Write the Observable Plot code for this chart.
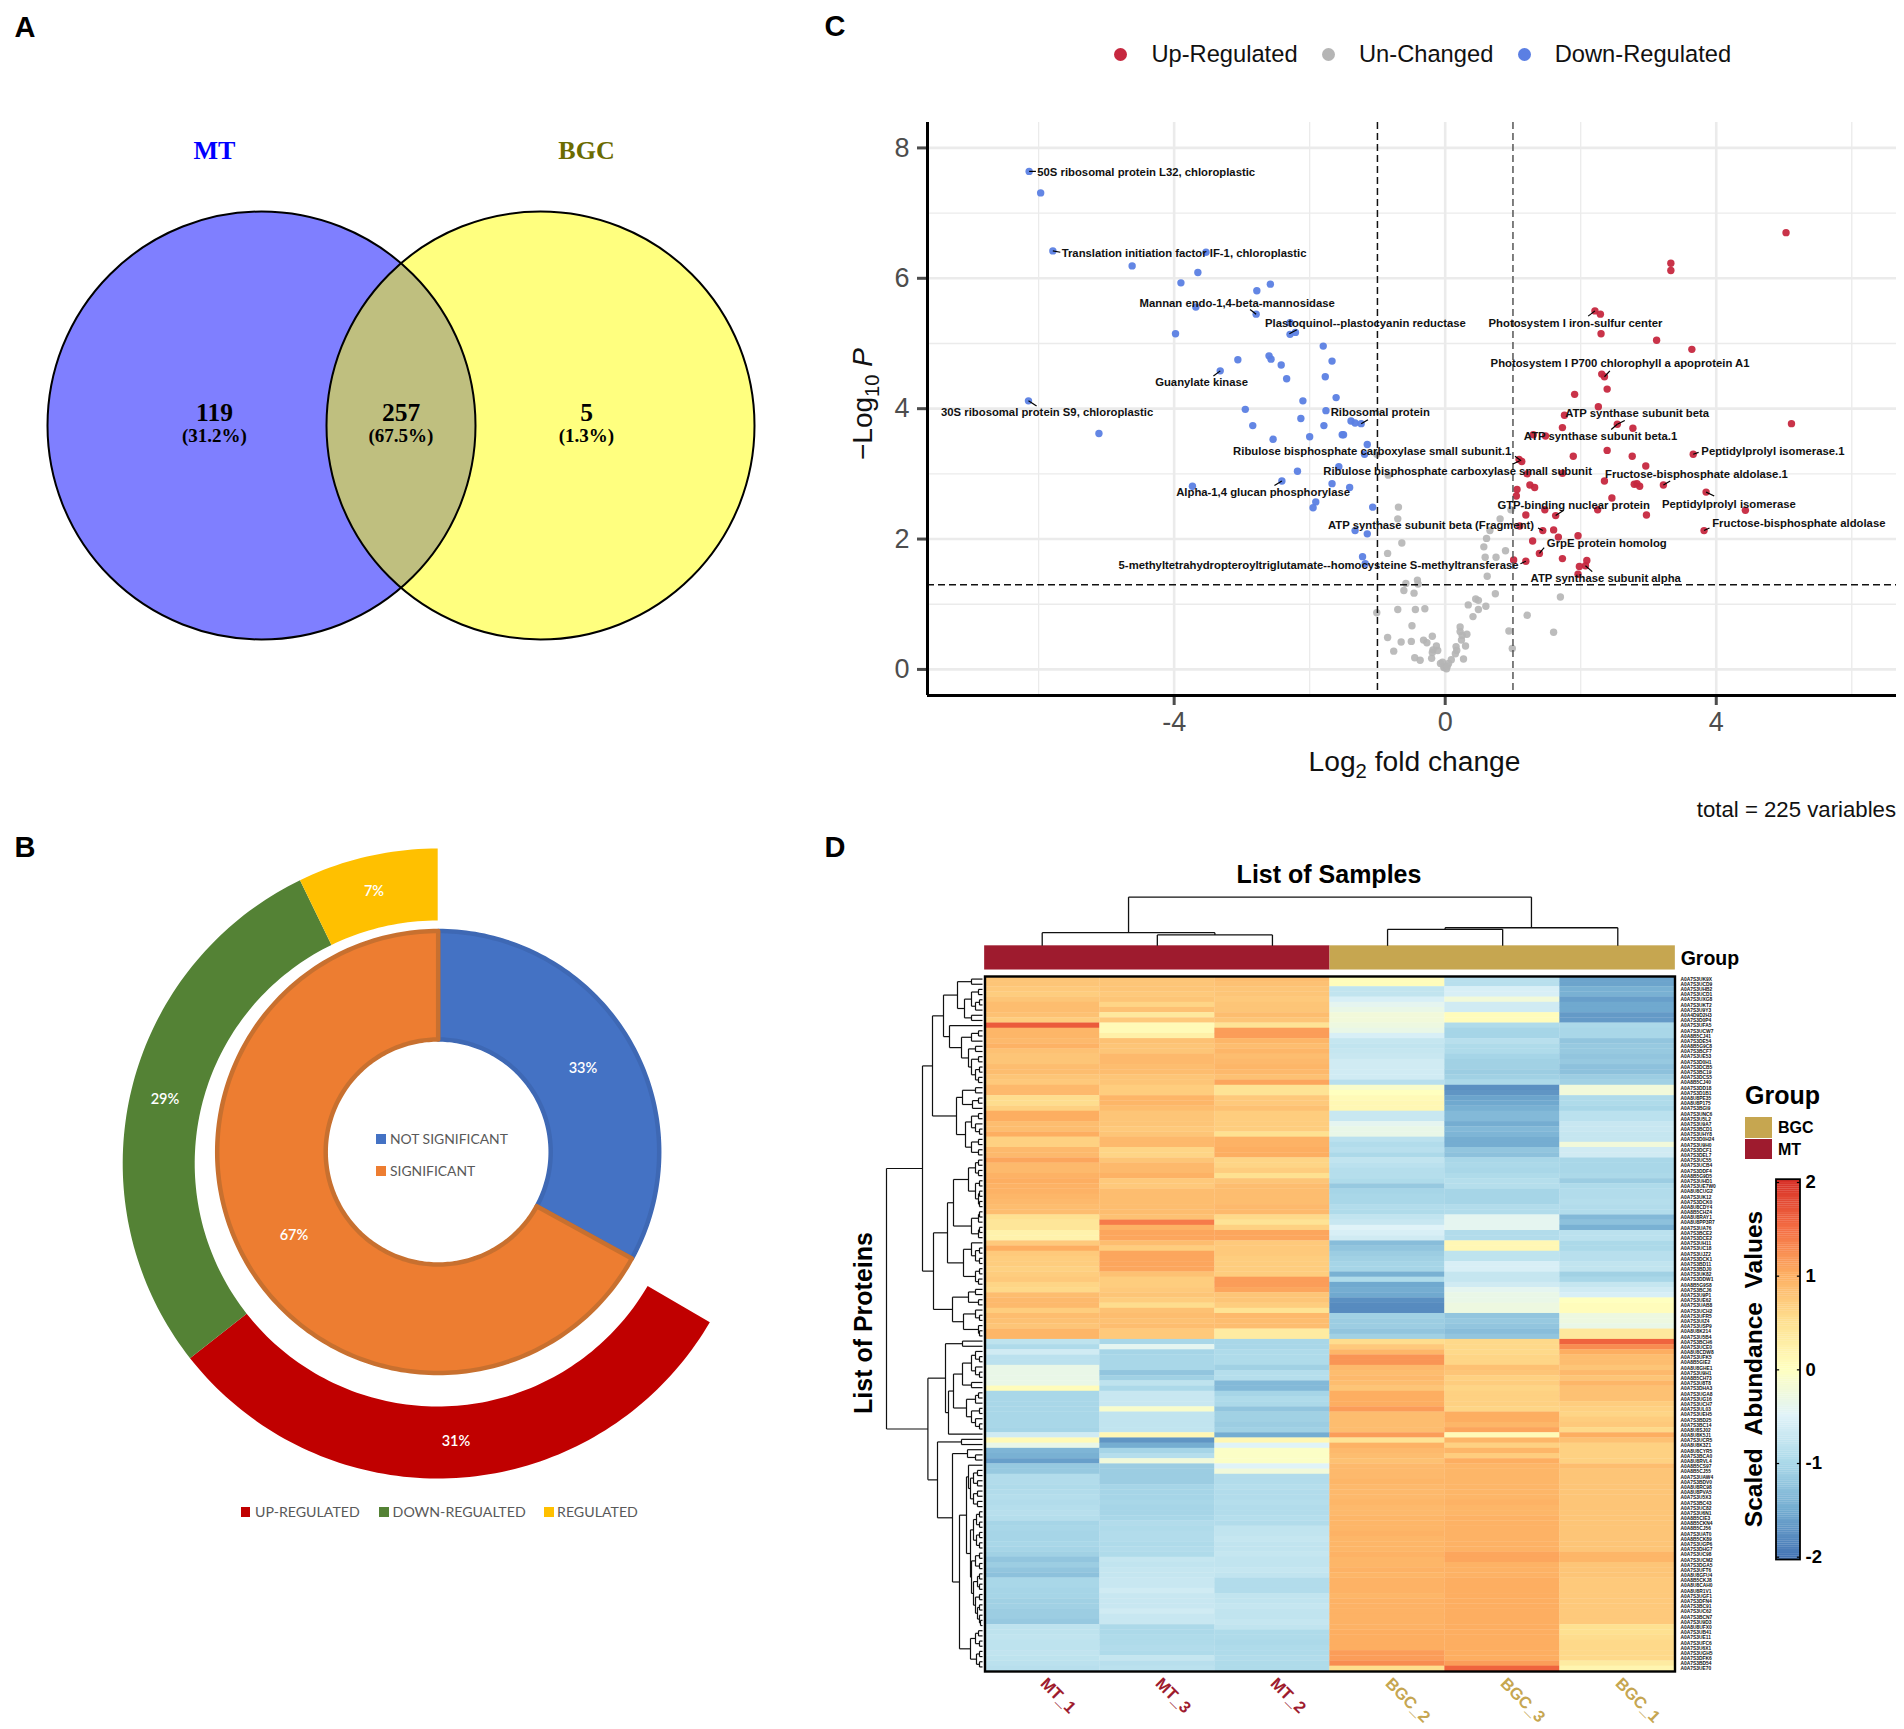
<!DOCTYPE html>
<html><head><meta charset="utf-8">
<script src="https://cdn.jsdelivr.net/npm/d3@7"></script>
<script src="https://cdn.jsdelivr.net/npm/@observablehq/plot@0.6"></script>
<style>
html,body{margin:0;padding:0;background:#fff}
#page{position:relative;width:1904px;height:1729px;overflow:hidden;font-family:"Liberation Sans",Arial,sans-serif}
#page svg{position:absolute;max-width:none;background:transparent;overflow:visible}
.t{position:absolute;white-space:nowrap;line-height:1;transform:translate(-50%,-50%)}
.sw{position:absolute}
sub{font-size:.72em;line-height:0}
</style></head><body><div id="page"></div>
<script>
// ---------- Panel A: Venn ----------
const vennSets=["MT","BGC"];
const vennCounts=[119,257,5];
const vennShares=["(31.2%)","(67.5%)","(1.3%)"];
// ---------- Panel B: nested donut ----------
const innerNames=["NOT SIGNIFICANT","SIGNIFICANT"];
const innerShares=[33,67];
const innerColors=["#4472c4","#ed7d31"];
const outerNames=["UP-REGULATED","DOWN-REGUALTED","REGULATED"];
const outerShares=[31,29,7];
const outerSlices=[31,28.4,7.2]; // slice sizes as drawn, before rounding in the labels
const outerColors=["#c00000","#548235","#ffc000"];
// ---------- Panel C: volcano, [log2FC, -log10P] ----------
const downPoints=[[-6.14,7.64],[-5.97,7.31],[-5.79,6.42],[-3.53,6.4],[-4.62,6.19],[-3.65,6.09],[-3.9,5.93],[-2.58,5.91],[-2.78,5.81],[-3.68,5.56],[-2.79,5.45],[-2.29,5.32],[-2.29,5.14],[-2.21,5.17],[-3.98,5.15],[-1.8,4.96],[-2.6,4.81],[-2.57,4.76],[-3.06,4.75],[-1.67,4.73],[-2.42,4.67],[-3.32,4.58],[-2.34,4.46],[-1.77,4.49],[-1.61,4.17],[-2.1,4.12],[-6.15,4.12],[-2.95,3.99],[-1.76,3.97],[-2.13,3.85],[-1.39,3.81],[-1.33,3.78],[-1.24,3.77],[-2.84,3.74],[-1.79,3.74],[-5.11,3.62],[-2,3.57],[-1.52,3.6],[-1.5,3.6],[-2.54,3.53],[-1.15,3.45],[-1.19,3.3],[-1.57,3.11],[-2.18,3.04],[-2.41,2.89],[-1.67,2.85],[-3.73,2.81],[-1.41,2.79],[-1.91,2.57],[-1.95,2.48],[-1.07,2.49],[-1.33,2.13],[-1.15,2.08],[-1.22,1.73],[-1.18,1.62]];
const upPoints=[[5.03,6.7],[3.33,6.23],[3.33,6.12],[2.21,5.5],[2.29,5.45],[2.3,5.15],[3.12,5.05],[3.64,4.91],[2.31,4.53],[2.35,4.49],[2.39,4.3],[1.91,4.22],[2.26,4.03],[1.76,3.9],[2.54,3.76],[2.77,3.7],[1.73,3.71],[5.11,3.77],[1.3,3.6],[1.48,3.58],[2.39,3.36],[1.89,3.27],[2.76,3.27],[3.66,3.3],[1.09,3.22],[1.13,3.19],[2.96,3.12],[1.21,3],[1.73,3.01],[2.35,2.89],[2.79,2.84],[2.83,2.85],[2.87,2.81],[3.22,2.83],[1.25,2.83],[1.32,2.79],[1.06,2.76],[1.05,2.66],[2.46,2.63],[3.85,2.72],[1.47,2.45],[2.25,2.45],[4.43,2.44],[1.19,2.37],[1.63,2.36],[2.97,2.37],[3.82,2.13],[1.1,2.2],[1.44,2.13],[1.6,2.14],[1.67,2.03],[1.96,2.05],[1.29,1.97],[1.39,1.78],[1.73,1.7],[1.01,1.68],[1.19,1.66],[2.09,1.67],[1.98,1.58],[2.07,1.59],[1.96,1.46]];
const flatPoints=[[-1.01,3.3],[-0.84,2.98],[-0.69,2.49],[-0.7,2.31],[0.81,2.31],[0.97,2.45],[0.66,2.13],[0.61,2.01],[-0.64,1.94],[0.57,1.88],[0.89,1.82],[-0.85,1.78],[0.59,1.72],[0.75,1.72],[0.62,1.43],[-0.58,1.32],[-0.41,1.37],[-0.4,1.31],[-0.61,1.21],[-0.46,1.17],[0.74,1.16],[1.7,1.11],[0.45,1.08],[0.49,1.06],[0.34,0.99],[0.6,0.97],[-0.3,0.93],[-0.44,0.92],[-0.7,0.92],[-1.01,0.87],[0.49,0.92],[0.41,0.81],[1.21,0.83],[-0.49,0.67],[0.22,0.65],[0.94,0.59],[1.6,0.57],[0.22,0.58],[0.32,0.54],[0.25,0.52],[-0.85,0.49],[-0.19,0.51],[0.24,0.45],[-0.65,0.42],[-0.5,0.43],[-0.32,0.45],[-0.27,0.41],[-0.13,0.36],[0.3,0.36],[0.16,0.35],[0.99,0.32],[-0.18,0.3],[-0.11,0.29],[-0.76,0.28],[-0.19,0.26],[0.17,0.29],[0.15,0.24],[-0.45,0.18],[-0.2,0.17],[-0.37,0.14],[0.27,0.16],[0.09,0.15],[-0.04,0.11],[0.05,0.09],[-0.01,0.04],[0.02,0.01],[-0.02,0.03],[-0.07,0.09],[0.03,0.05]];
const proteinNames=["50S ribosomal protein L32, chloroplastic","Translation initiation factor IF-1, chloroplastic","Mannan endo-1,4-beta-mannosidase","Plastoquinol--plastocyanin reductase","Guanylate kinase","30S ribosomal protein S9, chloroplastic","Ribosomal protein","Ribulose bisphosphate carboxylase small subunit.1","Ribulose bisphosphate carboxylase small subunit","Alpha-1,4 glucan phosphorylase","ATP synthase subunit beta (Fragment)","5-methyltetrahydropteroyltriglutamate--homocysteine S-methyltransferase","Photosystem I iron-sulfur center","Photosystem I P700 chlorophyll a apoprotein A1","ATP synthase subunit beta","ATP synthase subunit beta.1","Peptidylprolyl isomerase.1","Fructose-bisphosphate aldolase.1","GTP-binding nuclear protein","Peptidylprolyl isomerase","Fructose-bisphosphate aldolase","GrpE protein homolog","ATP synthase subunit alpha"];
const proteinLabelX=[-6.02,-5.66,-4.51,-2.66,-4.28,-7.44,-1.69,-3.13,-1.8,-3.97,-1.73,-4.82,0.64,0.67,1.77,1.16,3.78,2.36,0.77,3.2,3.94,1.5,1.26];
const proteinLabelY=[7.63,6.39,5.62,5.31,4.4,3.94,3.94,3.35,3.04,2.71,2.21,1.59,5.31,4.69,3.93,3.58,3.34,2.99,2.52,2.53,2.24,1.93,1.39];
// connector from a labelled point towards its label: [x1,y1,x2,y2]
const connectors=[[-6.14,7.64,-6.04,7.64],[-5.79,6.42,-5.68,6.4],[-2.79,5.45,-2.88,5.52],[-2.3,5.15,-2.19,5.21],[-3.32,4.58,-3.42,4.5],[-6.15,4.12,-6.03,4.04],[-1.24,3.77,-1.14,3.83],[1.12,3.2,1.03,3.27],[1.1,3.2,1,3.15],[-2.41,2.89,-2.52,2.82],[2.54,3.76,2.45,3.68],[2.54,3.76,2.65,3.82],[3.66,3.3,3.74,3.33],[3.22,2.83,3.32,2.89],[3.85,2.72,3.97,2.66],[3.82,2.13,3.9,2.17],[1.63,2.36,1.75,2.44],[1.39,1.78,1.46,1.87],[2.07,1.59,2.17,1.5],[1.44,2.13,1.37,2.17],[1.19,1.66,1.11,1.62],[2.21,5.5,2.11,5.42],[2.35,4.49,2.43,4.58]];
const volcanoClasses=["Up-Regulated","Un-Changed","Down-Regulated"];
const volcanoColors=["#c6283f","#b5b5b5","#5b7fe3"];
const xMajor=[-4,0,4], xMinor=[-6,-2,2,6], yMajor=[0,2,4,6,8], yMinor=[1,3,5,7];
// ---------- Panel D: heatmap ----------
const samples=["MT_1","MT_3","MT_2","BGC_2","BGC_3","BGC_1"];
const sampleGroup=["MT","MT","MT","BGC","BGC","BGC"];
const groupOrder=["MT","BGC"];
const groupColors={MT:"#9e1b2e",BGC:"#c6a650"};
const heatStops=[-2,-1.5,-1,-.5,0,.5,1,1.5,2];
const heatColors=["#4575b4","#74add1","#abd9e9","#e0f3f8","#ffffbf","#fee090","#fdae61","#f46d43","#d73027"];
const MT_1=[.95,.95,.9,.85,.95,1.05,1.05,1,.85,1.75,
1.15,1.15,1.1,1.2,1,.95,.95,1.05,1.05,.95,
.9,1.1,1.1,.65,.65,.8,1.25,1.25,1.05,1.05,
1.25,.8,.8,1.1,1.1,1.3,1.1,1.1,1.2,1.25,
1.2,1.2,1.15,1.1,1.05,1.05,.6,.5,.5,.25,
.25,.9,1.25,.9,.85,.85,.8,.85,.9,.75,
.7,1.05,1.1,1.1,.85,1.05,1,.95,1.15,1.15,
-.7,-.95,-.5,-.75,-.75,-.3,-.3,-.3,-.3,.05,
-1.05,-1.05,-1.05,-1.05,-1.05,-1.05,-1.05,-1.1,-.5,.1,
-.3,-1.5,-1.55,-1.75,-1.25,-1.25,-.9,-.9,-.95,-.9,
-.85,-.9,-.85,-.8,-.85,-1.1,-1.05,-1.1,-1.1,-1.05,
-1.1,-1.15,-1.3,-1.2,-1.3,-1.35,-1.05,-1.05,-1.1,-1.1,
-1.15,-1.15,-1.2,-1.2,-1.25,-.7,-.7,-.65,-.7,-.7,
-.65,-.7,-.75,-.8];
const MT_3=[.95,.95,.95,.9,.95,.75,1,.45,.9,.1,
.1,.3,1,.95,.95,1.1,1.1,1.05,1.05,.95,
.95,.85,.85,1.15,1.15,1.05,.95,.95,.95,.9,
.95,1.1,1.1,.75,.75,.95,1.1,1.1,1.2,.9,
.9,1.05,1.05,1.05,1.05,1.05,1,1.55,1.2,1.3,
1.3,1.05,.85,1.3,1.3,1.3,1.3,1,.85,.85,
.9,.95,.85,.65,1,1.05,1,1.05,.9,.9,
-1.05,-.35,-1.1,-1.05,-1.05,-1.05,-1.3,-1.15,-.7,-1,
-.55,-.55,-.55,-.1,-.65,-.65,-.65,-.65,.15,-1.85,
-1.6,-1.1,-.85,-.2,-1.2,-1.2,-1.2,-1.2,-1.1,-1.1,
-1.1,-1.05,-1.1,-1.1,-1.05,-.9,-.95,-.9,-.9,-.95,
-.9,-.95,-.6,-.65,-.6,-.6,-.55,-.55,-.5,-.55,
-.55,-.55,-.5,-.55,-.55,-1,-1,-.95,-.95,-.9,
-.95,-.6,-.8,-.75];
const MT_2=[1.05,1,.95,.95,.9,.95,.95,1.05,.95,.55,
1.35,1.35,1.15,1.05,1.15,1.05,1.1,1.15,1.1,1,
1.3,.55,.55,.9,.9,1,.85,.85,.85,.85,
.6,1.2,1.2,1.25,1.25,.75,.75,.85,.6,.95,
1.05,1.05,1.05,1.05,1.1,1.1,.7,.55,.8,1.3,
1.3,.9,.9,.9,.85,.85,.85,.85,1.35,1.35,
1.3,.95,.95,.85,.55,1.1,1.05,1.05,.4,.4,
-1.05,-1.05,-.95,-.95,-.95,-1.15,-.85,-.85,-1.45,-1.45,
-1.1,-.95,-1,-1.3,-1.15,-1.15,-1.2,-1.15,-1.6,.15,
-.4,-.05,-.05,-.05,-.4,-.2,-.9,-.9,-.85,-.9,
-.9,-.85,-.9,-.9,-.85,-.9,-.65,-.65,-.6,-.65,
-.65,-.6,-.65,-.65,-.6,-.65,-.9,-.9,-.9,-.65,
-.65,-.6,-.65,-.65,-.6,-.65,-.95,-.95,-1,-.95,
-.95,-.9,-.95,-.95];
const BGC_2=[.05,.05,-.65,-.65,-.45,-.35,-.3,-.2,-.2,-.25,
-.3,-.45,-.6,-.65,-.6,-.55,-.5,-.5,-.5,-.5,
-.8,-.1,0,.1,.15,.15,-.55,-.55,-.35,-.3,
-.3,-.75,-.9,-.8,-1,-.65,-.75,-.85,-.85,-.95,
-1.25,-1.1,-1.05,-1.05,-.9,-.95,-.65,-.55,-.4,-.45,
-.5,-1.4,-1.3,-1.2,-1.15,-1.1,-1.1,-1.55,-.95,-1.65,
-1.6,-1.65,-1.9,-1.95,-1.95,-1.15,-1.2,-1.2,-1.3,-1.15,
.65,.9,1.15,1.4,1.4,1.1,1.05,1.1,1.05,.95,
1.25,1.25,1.25,1.35,1.05,1.05,1.05,1.05,1.35,.55,
1.2,1.1,1.05,1,1.1,1.1,1.1,1.15,1.1,1.1,
1.1,1.15,1.1,1.1,1.15,1.15,1.15,1.2,1.15,1.15,
1.15,1.2,1.15,1.15,1.2,1.15,1.2,1.2,1.2,1.15,
1.2,1.2,1.2,1.2,1.2,1.2,1.25,1.25,1.25,1.25,
1.35,1.35,1.45,.65];
const BGC_3=[-.8,-.8,-.45,-.45,-.2,-.5,-.5,.05,.05,-.95,
-1.1,-1.1,-.8,-.95,-.95,-1.1,-1.15,-1.15,-1.2,-1.15,
-1,-1.9,-1.85,-1.7,-1.65,-1.55,-1.45,-1.45,-1.6,-1.45,
-1.5,-1.6,-1.6,-1.3,-1.35,-1.05,-1,-1.05,-.95,-.85,
-.85,-1.1,-1.1,-1.1,-.9,-.9,-.35,-.35,-.35,-.9,
-.9,.15,.15,-.7,-.7,-.45,-.45,-.6,-.6,-.5,
-.35,-.3,-.3,-.25,-.25,-1.3,-1.25,-1.3,-1.4,-1.3,
.7,.7,.7,.75,.75,1,.95,.8,.85,.75,
.8,.8,.8,.75,1.25,1.25,1.15,1.3,.1,1.15,
.8,1.15,.85,1.25,1.15,1.15,1.15,1.15,1.15,1.15,
1.15,1.2,1.15,1.15,1.2,1.2,1.2,1.2,1.2,1.2,
1.2,1.3,1.3,1.2,1.2,1.2,1.25,1.25,1.25,1.25,
1.25,1.25,1.25,1.25,1.25,1.25,1.25,1.25,1.25,1.25,
1.25,1.25,1.35,1.7];
const BGC_1=[-1.7,-1.7,-1.55,-1.55,-1.75,-1.65,-1.65,-1.8,-1.8,-1,
-1.05,-1.05,-1.3,-1.25,-1.25,-1.3,-1.25,-1.35,-1.35,-1.2,
-1.15,-.2,-.2,-.95,-.95,-1.05,-.75,-.75,-.55,-.55,
-.6,-.6,-.2,-.5,-.5,-1.05,-1.05,-1.05,-1,-1.2,
-.95,-.9,-.9,-.85,-.9,-.9,-1.45,-1.35,-1.55,-.75,
-.75,-1,-1,-.8,-.8,-.65,-.65,-1.15,-1.05,-.6,
-.5,-.45,0,.05,.05,-.25,-.25,-.3,.45,.45,
1.7,1.45,1.25,1.05,1.05,.95,1.1,.95,1.15,1,
1,1,.85,.8,.75,.85,.9,.7,1.25,1,
.8,.8,.8,.8,1.05,.95,.95,.95,.95,.95,
.95,.95,.95,.95,.95,.95,.95,.95,.95,.95,
.95,1.15,1.15,.95,.95,.95,.9,.9,.9,.9,
.9,.9,.9,.9,.9,.6,.6,.65,.7,.7,
.7,.7,.4,.2];
const sampleValues=[MT_1,MT_3,MT_2,BGC_2,BGC_3,BGC_1];
const rowIds=["A0A7S3UK9X","A0A7S3UCD9","A0A7S3UHB2","A0A7S3UCD1","A0A7S3UXG8","A0A7S3UKT2","A0A7S3U9Y3","A0A4D9D2H3","A0A7S3D0P4","A0A7S3UFA5",
"A0A7S3UCW7","A0A8B5CJ41","A0A7S3DE54","A0A8B5G9C8","A0A7S3BCF7","A0A7S3UE53","A0A7S3D0H1","A0A7S3DCB5","A0A7S3BC19","A0A7S3DCS5",
"A0A8B5CJ40","A0A7S3DD18","A0A7S3D1B1","A0A8U8PE35","A0A8U8P175","A0A7S3BGI9","A0A7S3UNC6","A0A7S3U5L2","A0A7S3U9A7","A0A7S3BCD1",
"A0A7S3UHY8","A0A7S3D0H24","A0A7S3U9H0","A0A7S3DCF1","A0A7S3DEL7","A0A7S3UC55","A0A7S3UCB4","A0A7S3DDF4","A0A8B5G9D5","A0A7S3UHD1",
"A0A7S3UE7W0","A0A8U8CUG2","A0A7S3UK12","A0A7S3DCK0","A0A8U8CDY4","A0A8B5CHZ4","A0A8U8RAY1","A0A8U8PP3R7","A0A7S3UA76","A0A7S3BCE2",
"A0A7S3DCE2","A0A7S3UH11","A0A7S3UC18","A0A7S3UJZ2","A0A7S3DCK1","A0A7S3BD11","A0A7S3BDJ0","A0A7S3UK82","A0A7S3DDW1","A0A8B5G9S8",
"A0A7S3BCJ6","A0A7S3U9P1","A0A7S3UE62","A0A7S3UAB8","A0A7S3UCH2","A0A7S3UFR5","A0A7S3UIZ4","A0A7S3USP9","A0A8U8K214","A0A7S3U5B4",
"A0A7S3BCH6","A0A7S3UCE0","A0A8U8CDW8","A0A7S3UFK5","A0A8B5GIE2","A0A8U8GHE1","A0A7S3U9H1","A0A8B5CH73","A0A7S3U8T8","A0A7S3DHA3",
"A0A7S3UGA8","A0A7S3UG16","A0A7S3UCH7","A0A7S3UL03","A0A7S3UEH5","A0A7S3BD25","A0A7S3BC14","A0A8U8SJ02","A0A8U8K5J1","A0A7S3UCR5",
"A0A8U8K3Z1","A0A8U8CYR5","A0A7S3BCA0","A0A8U8RVL4","A0A8B5CS97","A0A8B5CJ55","A0A7S3UAW4","A0A7S3BDV0","A0A8U8RC98","A0A8U8PVA5",
"A0A7S3U5X3","A0A7S3BC43","A0A7S3UC82","A0A7S3U6N1","A0A8B5CIE3","A0A8B5CKN4","A0A8B5CJ56","A0A7S3UAT0","A0A8B5CK89","A0A7S3UGP6",
"A0A7S3DHG7","A0A7S3UC98","A0A7S3UCM2","A0A7S3DGA5","A0A7S3UFT6","A0A8U8GFU4","A0A8B5CKJ8","A0A8U8CAH0","A0A8U8R1V1","A0A7S3UGF1",
"A0A7S3DFN4","A0A7S3BC91","A0A7S3UC62","A0A7S3BCN7","A0A7S3U9D3","A0A8U8UFX0","A0A7S3UB41","A0A7S3UE11","A0A7S3UFC6","A0A7S3U6X1",
"A0A7S3UGH5","A0A7S3DFK6","A0A7S3BD54","A0A7S3UE70"];
// dendrograms: [height, left, right]; a number is a leaf
const topTree=[49.3,[13.3,.5,[11,1.5,2.5]],[18.3,[16.7,3.5,4.5],5.5]];
const rowTree=[96,
 [60,
  [50,
   [39,
    [25,[11,0,1],[18,[11,[4,2,3],[7,[3,4,5],6]],[11,7,8]]],
    [33,9,[21,[11,[4,10,11],12],[14,[7,13,14],[11,[4,15,16],[7,[3,17,18],[4,19,20]]]]]]],
   [26,[20,[7,21,22],[10,[4,23,24],25]],[17,[11,[4,26,27],[7,28,[3,29,30]]],[11,[4,31,32],[4,33,34]]]]],
  [49,
   [35,
    [29,[14,[7,[4,35,36],[4,37,38]],[7,[3,39,40],[4,[3,41,42],[3,43,44]]]],[11,[4,[3,45,46],47],[4,[3,48,49],50]]],
    [19,[11,51,[7,[3,52,53],[3,54,55]]],[7,[3,56,57],[4,58,59]]]],
   [30,[14,[7,60,61],[4,62,63]],[19,[7,64,[3,65,66]],[4,67,[3,68,69]]]]]],
 [54.6,
  [37,[20,70,71],[34,[29,[20,[11,[7,72,[3,73,74]],[7,75,[3,76,77]]],[11,78,79]],[16,[7,[4,80,81],82],[11,[3,83,84],[7,85,[3,86,87]]]]],88]],
  [45,[21,89,90],
   [30,[15,91,[7,92,93]],
    [23,
     [16,[14,94,[12,[9,[5,95,96],[5,97,98]],[9,[5,99,100],[5,101,102]]]],[12,[9,[6,[3,103,104],[3,105,106]],[6,[3,107,108],[3,109,110]]],[11,[7,[3,111,112],[3,113,114]],[9,[5,[3,115,116],[3,117,118]],[7,[3,119,120],[5,[3,121,122],[3,123,[2,124,125]]]]]]]],
     [12,[7,[4,126,127],[3,128,129]],[6,[3,130,131],[3,132,133]]]]]]]];

// ---------- helpers ----------
const page=document.getElementById("page");
const sans="'Liberation Sans',Arial,sans-serif", serif="'Liberation Serif',serif", lato="Lato,'Open Sans',sans-serif";
function place(svg,left,top){svg.style.left=left+"px";svg.style.top=top+"px";page.appendChild(svg);return svg;}
function txt(html,x,y,o={}){const d=document.createElement("div");d.className="t";d.innerHTML=html;
 d.style.left=x+"px";d.style.top=y+"px";d.style.fontSize=(o.size||16)+"px";d.style.fontWeight=o.weight||"normal";
 d.style.color=o.color||"#000";d.style.fontFamily=o.font||sans;
 let tr=o.anchor==="start"?"translate(0,-50%)":o.anchor==="end"?"translate(-100%,-50%)":"translate(-50%,-50%)";
 if(o.rotate)tr+=` rotate(${o.rotate}deg)`;d.style.transform=tr;page.appendChild(d);return d;}
function swatch(x,y,w,h,color,round){const d=document.createElement("div");d.className="sw";
 Object.assign(d.style,{left:x+"px",top:y+"px",width:w+"px",height:h+"px",background:color,borderRadius:round?"50%":"0"});page.appendChild(d);}
function treeSegments(node,pos){
 if(typeof node==="number")return{c:pos(node),h:0,segs:[]};
 const a=treeSegments(node[1],pos),b=treeSegments(node[2],pos),h=node[0];
 const segs=[...a.segs,...b.segs,{h1:h,h2:h,c1:a.c,c2:b.c},{h1:a.h,h2:h,c1:a.c,c2:a.c},{h1:b.h,h2:h,c1:b.c,c2:b.c}];
 return{c:(a.c+b.c)/2,h,segs};
}
const heatColor={type:"linear",domain:heatStops,range:heatColors,clamp:true};

// ---------- panel letters ----------
txt("A",25,27,{size:29,weight:"bold"});txt("B",25,847,{size:29,weight:"bold"});
txt("C",835,26,{size:29,weight:"bold"});txt("D",835,847,{size:29,weight:"bold"});

// ---------- Panel A ----------
const vennCircles=[{set:"MT",cx:261,cy:425,fill:"#0000ff"},{set:"BGC",cx:540,cy:425,fill:"#ffff00"}];
const venn=[{x:214,i:0},{x:400.5,i:1},{x:586,i:2}];
place(Plot.plot({width:800,height:660,margin:0,x:{domain:[0,800],range:[0,800],axis:null},y:{domain:[0,660],range:[0,660],axis:null},
 style:{background:"transparent"},
 marks:[
  Plot.dot(vennCircles,{x:"cx",y:"cy",r:214,fill:"fill",fillOpacity:.5,stroke:"none"}),
  Plot.dot(vennCircles,{x:"cx",y:"cy",r:214,fill:"none",stroke:"#000",strokeWidth:2}),
  Plot.text(venn,{x:"x",y:()=>412,text:d=>String(vennCounts[d.i]),fontFamily:serif,fontWeight:"bold",fontSize:25.5,fill:"#000"}),
  Plot.text(venn,{x:"x",y:()=>435,text:d=>vennShares[d.i],fontFamily:serif,fontWeight:"bold",fontSize:19,fill:"#000"}),
  Plot.text([0,1],{x:i=>[214,586][i],y:()=>150.5,text:i=>vennSets[i],fontFamily:serif,fontWeight:"bold",fontSize:26,fill:i=>["#0000ff","#6b6b00"][i]})
 ]}),0,0);

// ---------- Panel B ----------
function sector(from,to,r0,r1,cx,cy,key){
 const n=Math.max(2,Math.round((to-from)*3)),out=[];
 for(let k=0;k<=n;k++){const a=(from+(to-from)*k/n)/100*2*Math.PI,s=Math.sin(a),c=Math.cos(a);
  out.push({key,x1:cx+r0*s,y1:cy-r0*c,x2:cx+r1*s,y2:cy-r1*c});}
 return out;}
let acc=100-d3.sum(outerSlices),outerArcs=[];outerSlices.forEach((p,i)=>{outerArcs.push(...sector(acc,acc+p,243,315,0,0,outerNames[i]));acc+=p;});
acc=0;let innerArcs=[];innerShares.forEach((p,i)=>{innerArcs.push(...sector(acc,acc+p,112.5,221,0.5,-11.5,innerNames[i]));acc+=p;});
place(Plot.plot({width:760,height:720,margin:0,x:{domain:[-437.7,322.3],range:[0,760],axis:null},y:{domain:[-343.5,376.5],range:[0,720],axis:null},
 color:{domain:[...innerNames,...outerNames],range:[...innerColors,...outerColors]},style:{background:"transparent"},
 marks:[
  Plot.area(outerArcs,{x1:"x1",y1:"y1",x2:"x2",y2:"y2",z:"key",fill:"key"}),
  Plot.area(innerArcs,{x1:"x1",y1:"y1",x2:"x2",y2:"y2",z:"key",fill:"key",stroke:d=>d.key===innerNames[0]?"#3e68b4":"#c8702f",strokeWidth:4.5})
 ]}),0,820);
const bSmall={size:14.5,color:"#fff",font:lato,weight:"600"};
txt(innerShares[0]+"%",583,1068,bSmall);txt(innerShares[1]+"%",294,1235,bSmall);
txt(outerShares[1]+"%",165,1099,bSmall);txt(outerShares[2]+"%",374,891,bSmall);txt(outerShares[0]+"%",456,1441,bSmall);
const bLeg={size:13.9,color:"#595959",font:lato,anchor:"start"};
swatch(376,1139-5,9.5,10,innerColors[0]);txt(innerNames[0],390,1139,bLeg);
swatch(376,1170.6-5,9.5,10,innerColors[1]);txt(innerNames[1],390,1170.6,bLeg);
const bottomLeg=[[240.5,255],[379,392.6],[544,557]];
outerNames.forEach((n,i)=>{swatch(bottomLeg[i][0],1507,9.5,10,outerColors[i]);txt(n,bottomLeg[i][1],1512,{...bLeg,size:14.2});});

// ---------- Panel C ----------
const xMin=-7.64,xMax=6.66,yMin=-.4,yMax=8.39;
const ptX=d=>d[0],ptY=d=>d[1];
const labelRows=proteinNames.map((name,i)=>({name,x:proteinLabelX[i],y:proteinLabelY[i]}));
place(Plot.plot({width:1076,height:660,marginLeft:107,marginRight:0,marginTop:2,marginBottom:85,
 x:{domain:[xMin,xMax],axis:null},y:{domain:[yMin,yMax],axis:null},style:{background:"transparent"},
 marks:[
  Plot.ruleX(xMinor,{stroke:"#ebebeb",strokeWidth:1.3}),Plot.ruleY(yMinor,{stroke:"#ebebeb",strokeWidth:1.3}),
  Plot.ruleX(xMajor,{stroke:"#ebebeb",strokeWidth:2.6}),Plot.ruleY(yMajor,{stroke:"#ebebeb",strokeWidth:2.6}),
  Plot.axisX(xMajor,{anchor:"bottom",label:null,tickSize:10,tickPadding:6,strokeWidth:3,color:"#4d4d4d",fontSize:27,fontFamily:sans,tickFormat:d=>String(d)}),
  Plot.axisY(yMajor,{anchor:"left",label:null,tickSize:10,tickPadding:8,strokeWidth:3,color:"#4d4d4d",fontSize:27,fontFamily:sans,tickFormat:d=>String(d)}),
  Plot.dot(flatPoints,{x:ptX,y:ptY,r:3.7,fill:volcanoColors[1],fillOpacity:.9}),
  Plot.dot(upPoints,{x:ptX,y:ptY,r:3.7,fill:volcanoColors[0],fillOpacity:.95}),
  Plot.dot(downPoints,{x:ptX,y:ptY,r:3.7,fill:volcanoColors[2],fillOpacity:.95}),
  Plot.ruleX([-1],{stroke:"#111",strokeWidth:1.5,strokeDasharray:"7,4"}),
  Plot.ruleX([1],{stroke:"#555",strokeWidth:1.5,strokeDasharray:"7,4"}),
  Plot.ruleY([1.3],{stroke:"#111",strokeWidth:1.4,strokeDasharray:"7,4"}),
  Plot.ruleX([xMin],{stroke:"#000",strokeWidth:3}),
  Plot.ruleY([yMin],{stroke:"#000",strokeWidth:3}),
  Plot.link(connectors,{x1:d=>d[0],y1:d=>d[1],x2:d=>d[2],y2:d=>d[3],stroke:"#000",strokeWidth:1.2}),
  Plot.text(labelRows,{x:"x",y:"y",text:"name",textAnchor:"start",fontFamily:sans,fontWeight:"bold",fontSize:11.3,fill:"#111"})
 ]}),820,120);
const legY=54.5;
[[1120,1151.4],[1328,1359],[1524.5,1554.7]].forEach((p,i)=>{swatch(p[0]-6.5,legY-6.5,13,13,volcanoColors[i],true);txt(volcanoClasses[i],p[1],legY,{size:23.7,anchor:"start",color:"#111"});});
txt("Log<sub>2</sub> fold change",1414.5,761,{size:28.2,color:"#111"});
txt("&minus;Log<sub>10</sub> <i>P</i>",863,404,{size:28,rotate:-90,color:"#111"});
txt("total = 225 variables",1896,809.5,{size:22.2,anchor:"end",color:"#111"});

// ---------- Panel D ----------
// My colour readings, first taken against a different ramp, recalibrated to this colour bar
const calibrate=d3.scaleLinear().domain([-2,-1.1,-.55,-.3,0,1.05,1.25,1.75]).range([-1.85,-1.05,-.73,-.35,0,.85,1,1.65]);
const heatCells=samples.flatMap((s,c)=>sampleValues[c].map((v,r)=>({s,r:rowIds[r],v:calibrate(v)})));
place(Plot.plot({width:753,height:757,marginLeft:1.5,marginRight:61.5,marginTop:2,marginBottom:60,
 x:{domain:samples,padding:0,round:false,axis:null},y:{domain:rowIds,padding:0,round:false,axis:null},color:heatColor,style:{background:"transparent",overflow:"visible"},
 marks:[
  Plot.cell(heatCells,{x:"s",y:"r",fill:"v",inset:-.15}),
  Plot.frame({stroke:"#000",strokeWidth:2.4}),
  Plot.text(rowIds,{y:d=>d,frameAnchor:"right",textAnchor:"start",dx:5.5,fontSize:4.9,fontWeight:"bold",fontFamily:sans,fill:"#111"}),
  Plot.text(samples.map((s,i)=>({s,g:sampleGroup[i]})),{x:"s",frameAnchor:"bottom",dy:13,dx:-3,rotate:45,textAnchor:"start",text:"s",fontSize:16.5,fontWeight:"bold",fontFamily:sans,fill:d=>groupColors[d.g]})
 ]}),983,974);
// top dendrogram & annotation bar
const topSegs=treeSegments(topTree,d=>d).segs;
const groupSpans=groupOrder.map(g=>({g,from:sampleGroup.indexOf(g),to:sampleGroup.lastIndexOf(g)+1}));
place(Plot.plot({width:693,height:82,margin:0,x:{domain:[-.01,6.01],range:[0,693],axis:null},y:{domain:[-26,56],range:[81,0],axis:null},style:{background:"transparent"},
 marks:[
  Plot.rect(groupSpans,{x1:"from",x2:"to",y1:()=>-24.5,y2:()=>0,fill:d=>groupColors[d.g]}),
  Plot.link(topSegs,{x1:"c1",x2:"c2",y1:"h1",y2:"h2",stroke:"#111",strokeWidth:1.3})
 ]}),983,890);
txt("Group",1680.7,959,{size:19.5,weight:"bold",anchor:"start"});
txt("List of Samples",1329,873.5,{size:25,weight:"bold"});
txt("List of Proteins",863,1323,{size:25,weight:"bold",rotate:-90});
// row dendrogram
const rowSegs=treeSegments(rowTree,d=>d+.5).segs;
place(Plot.plot({width:104,height:697,margin:0,x:{domain:[0,96],range:[102,6],axis:null},y:{domain:[0,134],range:[2,695],axis:null},style:{background:"transparent"},
 marks:[Plot.link(rowSegs,{x1:"h1",x2:"h2",y1:"c1",y2:"c2",stroke:"#111",strokeWidth:1.2})]}),880,974);
// group legend
txt("Group",1745,1095,{size:25,weight:"bold",anchor:"start"});
swatch(1745,1117,27,20.5,groupColors.BGC);swatch(1745,1139.3,27,20,groupColors.MT);
txt("BGC",1778,1128,{size:16,weight:"bold",anchor:"start"});txt("MT",1778,1150,{size:16,weight:"bold",anchor:"start"});
// colour bar
const barValues=[2,1,0,-1,-2];
const ramp=d3.range(-2.03,2.03,.02);
place(Plot.plot({width:70,height:400,margin:0,x:{domain:[0,1],range:[6,30],axis:null},y:{domain:[-2,2],range:[386.7,12],axis:null},color:heatColor,style:{background:"transparent",overflow:"visible"},
 marks:[
  Plot.rect(ramp,{x1:()=>0,x2:()=>1,y1:d=>d,y2:d=>d+.022,fill:d=>d}),
  Plot.rect([0],{x1:()=>0,x2:()=>1,y1:()=>-2.03,y2:()=>2.03,fill:"none",stroke:"#000",strokeWidth:1.8}),
  Plot.ruleY(barValues,{x1:()=>0,x2:()=>.13,stroke:"#000",strokeWidth:1.2}),
  Plot.ruleY(barValues,{x1:()=>.87,x2:()=>1,stroke:"#000",strokeWidth:1.2}),
  Plot.text(barValues,{x:()=>1,y:d=>d,text:d=>String(d),dx:5,textAnchor:"start",fontSize:18.5,fontWeight:"bold",fontFamily:sans,fill:"#000"})
 ]}),1770,1170);
txt("Scaled&nbsp; Abundance&nbsp; Values",1754,1369,{size:24.5,weight:"bold",rotate:-90});
</script></body></html>
